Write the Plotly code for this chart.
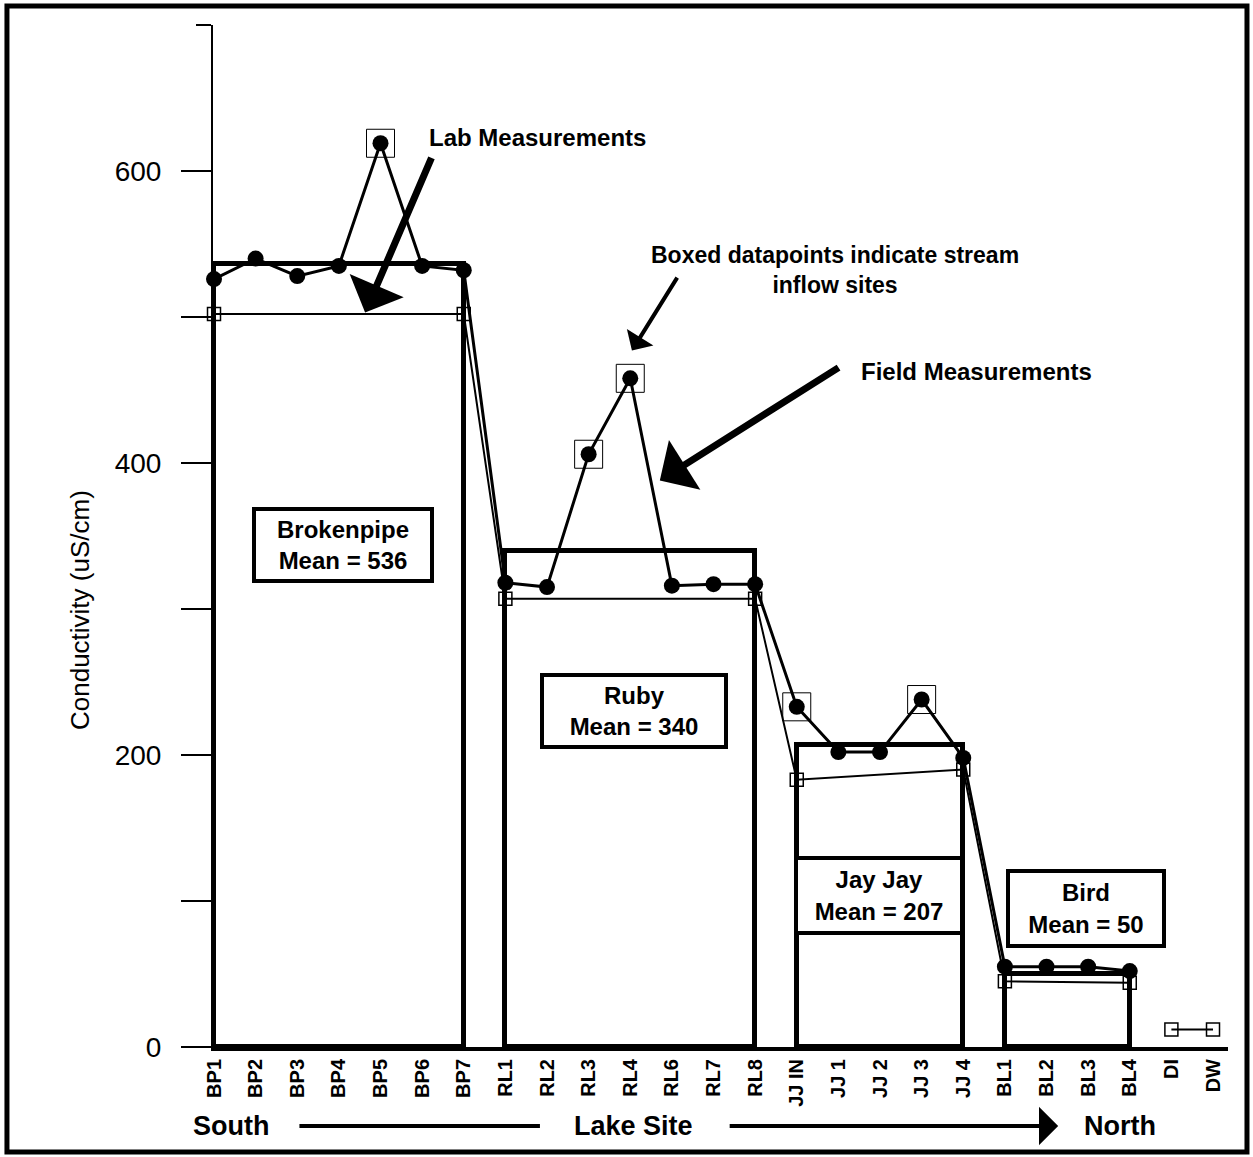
import plotly.graph_objects as go

# Sampling sites, south to north
sites = ["BP1", "BP2", "BP3", "BP4", "BP5", "BP6", "BP7",
         "RL1", "RL2", "RL3", "RL4", "RL6", "RL7", "RL8",
         "JJ IN", "JJ 1", "JJ 2", "JJ 3", "JJ 4",
         "BL1", "BL2", "BL3", "BL4", "DI", "DW"]

# Conductivity (uS/cm)
lab_conductivity = [526, 540, 528, 535, 619, 535, 532,
                    318, 315, 406, 458, 316, 317, 317,
                    233, 202, 202, 238, 198,
                    55, 55, 55, 52, None, None]
field_conductivity = [502, None, None, None, None, None, 502,
                      307, None, None, None, None, None, 307,
                      183, None, None, None, 190,
                      45, None, None, 44, 12, 12]
blank_sites = ["DI", "DW"]
inflow_sites = ["BP5", "RL3", "RL4", "JJ IN", "JJ 3"]

# Lake means
lakes = ["Brokenpipe", "Ruby", "Jay Jay", "Bird"]
lake_first = ["BP1", "RL1", "JJ IN", "BL1"]
lake_last = ["BP7", "RL8", "JJ 4", "BL4"]
lake_means = [536, 340, 207, 50]

FONT = "Liberation Sans, Arial, sans-serif"
idx = {s: i for i, s in enumerate(sites)}
xpos = list(range(len(sites)))

fig = go.Figure()

# Lake mean rectangles
starts = [idx[s] for s in lake_first]
ends = [idx[s] for s in lake_last]
fig.add_trace(go.Bar(
    x=[(a + b) / 2 for a, b in zip(starts, ends)],
    y=lake_means,
    width=[b - a for a, b in zip(starts, ends)],
    marker=dict(color="white", line=dict(color="black", width=5)),
    hoverinfo="skip",
))

# Field measurements (lake sites, then blanks)
lake_x = [x for x, s in zip(xpos, sites) if s not in blank_sites]
lake_y = [v for v, s in zip(field_conductivity, sites) if s not in blank_sites]
blank_x = [x for x, s in zip(xpos, sites) if s in blank_sites]
blank_y = [v for v, s in zip(field_conductivity, sites) if s in blank_sites]
for xs, ys in ((lake_x, lake_y), (blank_x, blank_y)):
    fig.add_trace(go.Scatter(
        x=xs, y=ys, mode="lines+markers", connectgaps=True,
        line=dict(color="black", width=2),
        marker=dict(symbol="square-open", size=13, color="black",
                    line=dict(color="black", width=1.5)),
        cliponaxis=False,
    ))

# Lab measurements
fig.add_trace(go.Scatter(
    x=xpos, y=lab_conductivity, mode="lines+markers",
    line=dict(color="black", width=3),
    marker=dict(symbol="circle", size=16, color="black"),
    cliponaxis=False,
))

# Stream inflow sites are boxed
fig.add_trace(go.Scatter(
    x=[idx[s] for s in inflow_sites],
    y=[lab_conductivity[idx[s]] for s in inflow_sites],
    mode="markers",
    marker=dict(symbol="square-open", size=28, color="black",
                line=dict(color="black", width=1)),
    cliponaxis=False,
))

annotations = []

# Mean labels
box_pos = [(3.09, 344, 172, 66), (10.08, 230, 178, 66),
           (15.98, 104, 160, 69), (20.96, 95, 150, 69)]
for name, mean, (bx, by, bw, bh) in zip(lakes, lake_means, box_pos):
    annotations.append(dict(
        x=bx, y=by, xref="x", yref="y", showarrow=False,
        text=f"{name}<br>Mean = {mean}",
        font=dict(family=FONT, size=24, color="black", weight="bold"),
        bgcolor="white", bordercolor="black", borderwidth=4,
        width=bw, height=bh, align="center",
    ))

bold = dict(family=FONT, size=23, color="black", weight="bold")

# Callout texts
annotations += [
    dict(x=7.78, y=623, text="Lab Measurements", showarrow=False,
         font=dict(bold, size=24)),
    dict(x=14.92, y=532, text="Boxed datapoints indicate stream<br>inflow sites",
         showarrow=False, font=dict(bold, size=23)),
    dict(x=18.31, y=463, text="Field Measurements", showarrow=False,
         font=dict(bold, size=24)),
]

# Callout arrows (head at x/y, tail at ax/ay)
for hx, hy, tx, ty, w, sz in [(3.63, 503, 5.24, 610, 7, 1.4),
                               (10.04, 477, 11.15, 528, 4, 1.3),
                               (10.71, 388, 15.04, 466, 7, 1.4)]:
    annotations.append(dict(
        x=hx, y=hy, ax=tx, ay=ty, xref="x", yref="y", axref="x", ayref="y",
        text="", showarrow=True, arrowhead=1, arrowsize=sz,
        arrowwidth=w, arrowcolor="black",
    ))

# South - Lake Site - North legend below the axis
row_y = -0.0773
annotations += [
    dict(x=0.41, y=row_y, yref="paper", yanchor="middle", text="South",
         showarrow=False, font=dict(bold, size=27)),
    dict(x=10.07, y=row_y, yref="paper", yanchor="middle", text="Lake Site",
         showarrow=False, font=dict(bold, size=27)),
    dict(x=21.77, y=row_y, yref="paper", yanchor="middle", text="North",
         showarrow=False, font=dict(bold, size=27)),
    dict(x=7.83, y=row_y, yref="paper", ax=-242, ay=0, text="",
         showarrow=True, arrowhead=0, arrowwidth=4, arrowcolor="black"),
    dict(x=20.28, y=row_y, yref="paper", ax=-330, ay=0, text="",
         showarrow=True, arrowhead=1, arrowsize=1.6, arrowwidth=4,
         arrowcolor="black"),
    # y-axis title
    dict(x=-0.131, y=0.4276, xref="paper", yref="paper",
         xanchor="center", yanchor="middle",
         text="Conductivity (uS/cm)", textangle=-90, showarrow=False,
         font=dict(family=FONT, size=26, color="black")),
]

fig.update_layout(
    width=1253, height=1157,
    margin=dict(l=213, r=25, t=25, b=110),
    paper_bgcolor="white", plot_bgcolor="white",
    showlegend=False, bargap=0,
    font=dict(family=FONT, color="black"),
    annotations=annotations,
    shapes=[dict(type="rect", xref="paper", yref="paper",
                 x0=-0.203, x1=1.0187, y0=-0.1027, y1=1.0186,
                 line=dict(color="black", width=5))],
)

fig.update_xaxes(
    range=[-0.024, 24.36], tickmode="array", tickvals=xpos, ticktext=sites,
    tickangle=-90, showgrid=False, zeroline=False,
    showline=True, linecolor="black", linewidth=4, ticks="",
    tickfont=dict(family=FONT, size=20, color="black", weight="bold"),
)

fig.update_yaxes(
    range=[0, 700], tickmode="array",
    tickvals=[0, 100, 200, 300, 400, 500, 600],
    ticktext=["0", "", "200", "", "400", "", "600"],
    ticks="outside", ticklen=30, tickwidth=1.5, tickcolor="black",
    minor=dict(dtick=100, tick0=0, ticks="outside", ticklen=15,
               tickwidth=1.5, tickcolor="black", showgrid=False),
    ticklabelstandoff=14,
    showgrid=False, zeroline=False,
    showline=True, linecolor="black", linewidth=2,
    tickfont=dict(family=FONT, size=28, color="black"),
)

fig.write_html("out.html")
